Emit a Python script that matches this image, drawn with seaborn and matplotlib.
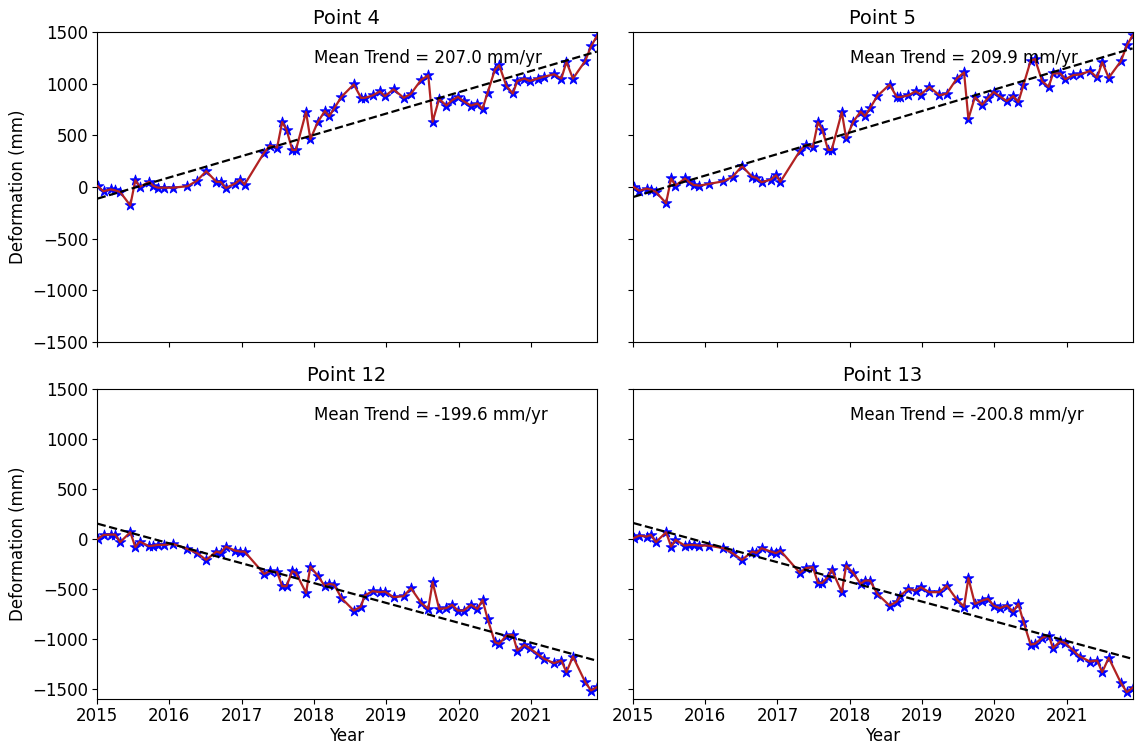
import numpy as np
import pandas as pd
import matplotlib
matplotlib.use("Agg")
import matplotlib.pyplot as plt
import seaborn as sns

# Acquisition dates (decimal years)
dates = [2015.01, 2015.09, 2015.19, 2015.25, 2015.32, 2015.46, 2015.53, 2015.59, 2015.72, 2015.78,
         2015.84, 2015.92, 2016.05, 2016.25, 2016.38, 2016.51, 2016.65, 2016.71, 2016.78, 2016.91,
         2016.98, 2017.04, 2017.31, 2017.39, 2017.49, 2017.56, 2017.62, 2017.70, 2017.75, 2017.89,
         2017.95, 2018.05, 2018.15, 2018.21, 2018.28, 2018.38,
         2018.55, 2018.65, 2018.70, 2018.81, 2018.91, 2018.98, 2019.10, 2019.24, 2019.34, 2019.48,
         2019.58, 2019.64, 2019.73, 2019.83, 2019.91, 2019.99, 2020.07, 2020.17, 2020.26, 2020.33,
         2020.40, 2020.50, 2020.56, 2020.66, 2020.75, 2020.81, 2020.91, 2020.98, 2021.09, 2021.18,
         2021.32, 2021.42, 2021.49, 2021.58, 2021.75, 2021.83, 2021.91]

point4 = [7, -42, -23, -33, -49, -179, 65, 0, 49, 10, -7, -7, -7, 7, 59, 153, 49, 49, -10, 33,
          72, 23, 332, 401, 381, 629, 554, 358, 358, 726, 462, 625, 736, 684, 762, 873,
          993, 863, 863, 886, 925, 879, 945, 863, 902, 1036, 1081, 632, 853, 788, 840, 873, 830,
          788, 808, 756, 912, 1133, 1179, 977, 905, 1026, 1049, 1026, 1049, 1068, 1091, 1049,
          1212, 1049, 1221, 1361, 1459]

point5 = [0, -36, -16, -26, -49, -157, 82, 13, 82, 46, 20, 13, 29, 55, 98, 202, 98, 88, 46, 72,
          114, 49, 349, 408, 388, 626, 554, 359, 359, 724, 470, 633, 730, 685, 763, 880,
          991, 871, 871, 887, 926, 894, 969, 887, 903, 1050, 1109, 659, 871, 796, 861, 920, 880,
          832, 880, 822, 985, 1220, 1239, 1024, 969, 1099, 1099, 1044, 1083, 1089, 1122, 1060,
          1207, 1057, 1220, 1370, 1467]

point12 = [0, 40, 43, 43, -33, 67, -83, -27, -73, -67, -60, -60, -50, -100, -140, -210, -127, -140,
           -77, -117, -127, -127, -350, -323, -333, -473, -473, -323, -340, -540, -277, -367, -473,
           -450, -460, -593,
           -717, -677, -567, -523, -533, -527, -583, -573, -493, -640, -700, -433, -700, -693, -660,
           -717, -717, -660, -700, -610, -800, -1033, -1050, -967, -960, -1117, -1060, -1093, -1150,
           -1200, -1243, -1217, -1333, -1177, -1433, -1517, -1483]

point13 = [7, 33, 23, 40, -33, 67, -77, -10, -67, -60, -60, -67, -67, -93, -143, -210, -127, -140,
           -93, -127, -143, -117, -340, -293, -283, -440, -440, -380, -307, -533, -267, -343, -450,
           -417, -417, -550,
           -667, -627, -567, -500, -517, -483, -533, -533, -467, -607, -677, -393, -650, -617, -600,
           -667, -693, -667, -727, -650, -827, -1057, -1050, -990, -967, -1093, -1023, -1043, -1117,
           -1177, -1227, -1217, -1333, -1190, -1443, -1533, -1490]

titles = ["Point 4", "Point 5", "Point 12", "Point 13"]
trend_labels = ["Mean Trend = 207.0 mm/yr", "Mean Trend = 209.9 mm/yr",
                "Mean Trend = -199.6 mm/yr", "Mean Trend = -200.8 mm/yr"]
series = [point4, point5, point12, point13]
year_ticks = [2015, 2016, 2017, 2018, 2019, 2020, 2021]
y_ticks = [-1500, -1000, -500, 0, 500, 1000, 1500]

fig, axes = plt.subplots(2, 2, figsize=(11.36, 7.45), dpi=100, sharex=True, sharey="row")
fig.subplots_adjust(left=0.0854, right=0.997, top=0.957, bottom=0.062, wspace=0.072, hspace=0.152)

for i, ax in enumerate(axes.flat):
    df = pd.DataFrame({"Year": dates, "Deformation": series[i]})
    sns.scatterplot(data=df, x="Year", y="Deformation", ax=ax, marker="*", s=65,
                    color="blue", edgecolor="blue", linewidth=0.6, zorder=2)
    sns.lineplot(data=df, x="Year", y="Deformation", ax=ax, color="firebrick",
                 linewidth=1.6, zorder=3, estimator=None, sort=False)
    sns.regplot(data=df, x="Year", y="Deformation", ax=ax, scatter=False, ci=None,
                line_kws=dict(color="black", linestyle="--", linewidth=1.6, zorder=4))
    ax.set_title(titles[i], fontsize=14)
    ax.text(0.434, 0.915, trend_labels[i], transform=ax.transAxes, fontsize=12,
            ha="left", va="center")
    ax.set_xlim(2015.0, 2021.91)
    ax.set_xticks(year_ticks)
    ax.set_xticklabels([str(y) for y in year_ticks])
    ax.set_yticks(y_ticks)
    ax.tick_params(labelsize=12, pad=2.5)
    ax.set_xlabel("Year" if i >= 2 else "", fontsize=12, labelpad=1)
    ax.set_ylabel("Deformation (mm)" if i % 2 == 0 else "", fontsize=12)

axes[0, 0].set_ylim(-1500, 1500)
axes[1, 0].set_ylim(-1600, 1500)

fig.savefig("out.png", dpi=100)
